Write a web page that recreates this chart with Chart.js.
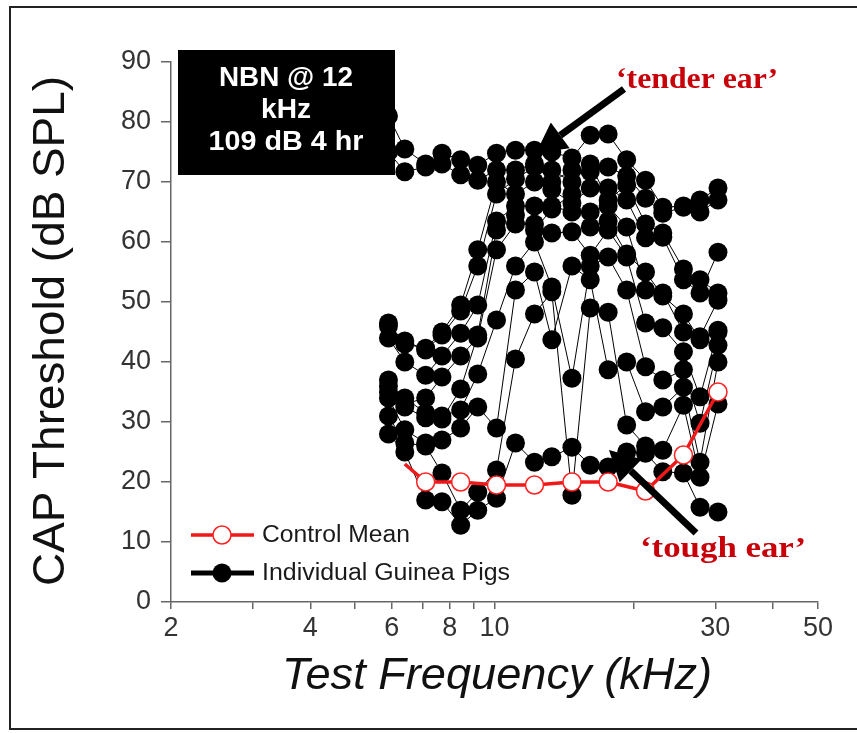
<!DOCTYPE html>
<html>
<head>
<meta charset="utf-8">
<script src="https://cdn.jsdelivr.net/npm/chart.js@4.4.1/dist/chart.umd.min.js"></script>
<style>
  html, body { margin: 0; padding: 0; background: #fff; overflow: hidden; }
  #wrap { position: relative; width: 857px; height: 733px; }
  #frame { position: absolute; left: 9px; top: 6px; width: 900px; height: 724px; border: 2px solid #222; border-right: none; box-sizing: border-box; }
  canvas { position: absolute; left: 0; top: 0; }
</style>
</head>
<body>
<div id="wrap">
  <div id="frame"></div>
  <canvas id="capChart" width="857" height="733"></canvas>
</div>
<script>
// test frequencies (kHz) used for every animal
const freqs = [5.9, 6.4, 7.1, 7.7, 8.45, 9.2, 10.1, 11.1, 12.2, 13.3, 14.7, 16.1, 17.6, 19.3, 21.2, 23.1, 25.6, 27.8, 30.4];

// CAP thresholds (dB SPL), one row per guinea pig
const tenderEar = [81, 75.5, 73, 74.8, 73.7, 72.8, 74.8, 75.3, 75.3, 75, 74, 77.8, 78, 73.7, 70.3, 65.8, 66, 67, 69];
const pig2 = [75, 71.7, 72.5, 73, 71.2, 70.3, 72, 72, 73, 70, 72, 71.7, 72.5, 71, 67.3, 64.8, 65.8, 65, 67];
const pig3 = [46.5, 43, 42.3, 45, 49.5, 58.7, 70, 68, 70, 68.7, 66.5, 69, 69, 67, 60.7, 60.8, 53.7, 51.5, 58.3];
const pig4 = [44, 40, 37.8, 41, 44.8, 49.5, 63.5, 66, 66, 66, 65, 65, 66, 62.5, 52, 51.5, 45, 44.2, 50.3];
const pig5 = [37, 33, 34, 37.5, 41, 44, 58.7, 63, 63, 61.5, 61.7, 57.8, 62, 57.5, 46.5, 45.7, 41.7, 34.2, 45.3];
const pig6 = [35, 32.5, 30.7, 31, 32, 38, 47, 56, 60, 52.5, 37.3, 56, 57.5, 52, 39.2, 37, 38.7, 29.8, 42.8];
const pig7 = [34, 28.7, 26.5, 27, 29, 32.5, 29, 52, 55, 43.7, 56, 53.7, 38.7, 40, 31.7, 32.5, 35.8, 23.3, 40];
const pig8 = [31, 26.5, 26, 21.5, 15.3, 18.3, 22, 40.5, 48, 51.7, 17.8, 49, 48.3, 29.5, 26, 25.3, 32.8, 20.8, 33];
const pig9 = [46, 43.5, 42, 44.5, 48.5, 56, 68, 70.5, 72.5, 72, 70, 73, 67, 69.5, 63, 61.5, 55.5, 53.7, 51.5];
const pig10 = [36, 34, 31.5, 30.5, 35.5, 44.5, 62, 64.5, 62, 65.5, 68, 62.5, 63.5, 58, 55, 51, 48, 43.7, 45];
const toughEar = [28, 25, 17, 16.7, 12.8, 15.3, 17.3, 26.5, 23.3, 24.2, 25.8, 22.8, 22.5, 25, 24.8, 21.7, 21.5, 15.8, 15];
const pigs = [tenderEar, pig2, pig3, pig4, pig5, pig6, pig7, pig8, pig9, pig10, toughEar];

// control mean
const controlFreqs = [6.4, 7.1, 8.45, 10.1, 12.2, 14.7, 17.6, 21.2, 25.6, 30.4];
const controlMean = [23, 20, 20, 19.5, 19.5, 20, 20, 18.5, 24.5, 35];

// axis ticks
const xTickValues = [2, 3, 4, 5, 6, 7, 8, 9, 10, 20, 30, 40, 50];
const xTickLabels = ['2', '', '4', '', '6', '', '8', '', '10', '', '30', '', '50'];
const yTickValues = [0, 10, 20, 30, 40, 50, 60, 70, 80, 90];

const SANS = "'Liberation Sans', Arial, Helvetica, sans-serif";
const SERIF = "'Liberation Serif', 'Times New Roman', serif";

const toPoints = (xs, ys) => xs.map((x, i) => ({ x: x, y: ys[i] }));

const datasets = [{
    label: 'Control Mean',
    data: toPoints(controlFreqs, controlMean),
    showLine: true,
    borderColor: '#f01818',
    borderWidth: 3.5,
    pointRadius: controlFreqs.map((f, i) => i === 0 ? 0 : 9),
    pointBackgroundColor: '#ffffff',
    pointBorderColor: '#ff2020',
    pointBorderWidth: 1.5,
    order: 0
}];
pigs.forEach((row, i) => {
    datasets.push({
        label: i === 0 ? 'Individual Guinea Pigs' : 'pig ' + (i + 1),
        data: toPoints(freqs, row),
        showLine: true,
        borderColor: '#000',
        borderWidth: 1,
        pointRadius: 9.5,
        pointBackgroundColor: '#000',
        pointBorderColor: '#000',
        pointBorderWidth: 0,
        order: 1
    });
});

// text squeezed/stretched to the width it has in the figure
function fitText(ctx, text, x, y, width, font, color, angle) {
    ctx.save();
    ctx.font = font;
    ctx.fillStyle = color;
    const w = ctx.measureText(text).width;
    ctx.translate(x, y);
    if (angle) ctx.rotate(angle);
    ctx.scale(width / w, 1);
    ctx.textAlign = 'center';
    ctx.textBaseline = 'middle';
    ctx.fillText(text, 0, 0);
    ctx.restore();
}

function drawArrow(ctx, x1, y1, x2, y2) {
    const ang = Math.atan2(y2 - y1, x2 - x1);
    const headLen = 30, headHalf = 16;
    const bx = x2 - headLen * Math.cos(ang), by = y2 - headLen * Math.sin(ang);
    ctx.save();
    ctx.strokeStyle = '#000';
    ctx.fillStyle = '#000';
    ctx.lineWidth = 7;
    ctx.beginPath();
    ctx.moveTo(x1, y1);
    ctx.lineTo(bx, by);
    ctx.stroke();
    ctx.beginPath();
    ctx.moveTo(x2, y2);
    ctx.lineTo(bx + headHalf * Math.sin(ang), by - headHalf * Math.cos(ang));
    ctx.lineTo(bx - headHalf * Math.sin(ang), by + headHalf * Math.cos(ang));
    ctx.closePath();
    ctx.fill();
    ctx.restore();
}

const annotations = {
    id: 'annotations',
    afterDatasetsDraw(chart) {
        const ctx = chart.ctx;
        const ctrl = chart.data.datasets[0];
        const pig = chart.data.datasets[1];

        // stimulus box
        ctx.save();
        ctx.fillStyle = '#000';
        ctx.fillRect(178, 50, 217, 125);
        ctx.restore();
        fitText(ctx, 'NBN @ 12', 286, 79, 134, 'bold 27px ' + SANS, '#fff');
        fitText(ctx, 'kHz', 286, 111, 50, 'bold 27px ' + SANS, '#fff');
        fitText(ctx, '109 dB 4 hr', 286, 143, 155, 'bold 27px ' + SANS, '#fff');

        // call-outs
        fitText(ctx, '\u2018tender ear\u2019', 697, 80, 162, 'bold 30px ' + SERIF, '#c8000a');
        drawArrow(ctx, 624, 89, 536, 153);
        fitText(ctx, '\u2018tough ear\u2019', 723, 549, 166, 'bold 30px ' + SERIF, '#c8000a');
        drawArrow(ctx, 696, 533, 609, 450);

        // legend
        ctx.save();
        ctx.lineWidth = ctrl.borderWidth;
        ctx.strokeStyle = ctrl.borderColor;
        ctx.beginPath(); ctx.moveTo(191, 535); ctx.lineTo(254, 535); ctx.stroke();
        ctx.beginPath(); ctx.arc(222, 535, 9, 0, Math.PI * 2);
        ctx.fillStyle = '#fff'; ctx.fill();
        ctx.lineWidth = 1.5; ctx.strokeStyle = ctrl.pointBorderColor; ctx.stroke();
        ctx.lineWidth = 5;
        ctx.strokeStyle = '#000';
        ctx.beginPath(); ctx.moveTo(191, 573); ctx.lineTo(254, 573); ctx.stroke();
        ctx.beginPath(); ctx.arc(222, 573, 9.5, 0, Math.PI * 2);
        ctx.fillStyle = pig.pointBackgroundColor; ctx.fill();
        ctx.restore();
        ctx.save();
        ctx.textAlign = 'left';
        ctx.restore();
        fitText(ctx, ctrl.label, 262 + 74, 536, 148, '23px ' + SANS, '#1a1a1a');
        fitText(ctx, pig.label, 262 + 124, 574, 248, '23px ' + SANS, '#1a1a1a');

        // axis titles
        fitText(ctx, 'CAP Threshold (dB SPL)', 52, 331, 510, '44px ' + SANS, '#111', -Math.PI / 2);
        fitText(ctx, 'Test Frequency (kHz)', 497, 677, 430, 'italic 44px ' + SANS, '#111');
    }
};

new Chart(document.getElementById('capChart').getContext('2d'), {
    type: 'scatter',
    data: { datasets: datasets },
    options: {
        responsive: false,
        animation: false,
        layout: { padding: { left: 0, right: 39, top: 62, bottom: 0 } },
        plugins: { legend: { display: false }, tooltip: { enabled: false } },
        scales: {
            x: {
                type: 'logarithmic',
                min: 2,
                max: 50,
                afterBuildTicks: (scale) => { scale.ticks = xTickValues.map(v => ({ value: v })); },
                afterFit: (scale) => { scale.height = 131; },
                ticks: {
                    autoSkip: false,
                    maxRotation: 0,
                    padding: 3,
                    color: '#333',
                    font: { family: SANS, size: 27 },
                    callback: (value, index) => xTickLabels[index]
                },
                grid: { drawOnChartArea: false, tickLength: 7, color: '#666', lineWidth: 1.5 },
                border: { color: '#666', width: 1.5 }
            },
            y: {
                min: 0,
                max: 90,
                afterBuildTicks: (scale) => { scale.ticks = yTickValues.map(v => ({ value: v })); },
                afterFit: (scale) => { scale.width = 171; },
                ticks: {
                    padding: 10,
                    color: '#333',
                    font: { family: SANS, size: 27 }
                },
                grid: { drawOnChartArea: false, tickLength: 10, color: '#666', lineWidth: 1.5 },
                border: { color: '#666', width: 1.5 }
            }
        }
    },
    plugins: [annotations]
});
</script>
</body>
</html>
